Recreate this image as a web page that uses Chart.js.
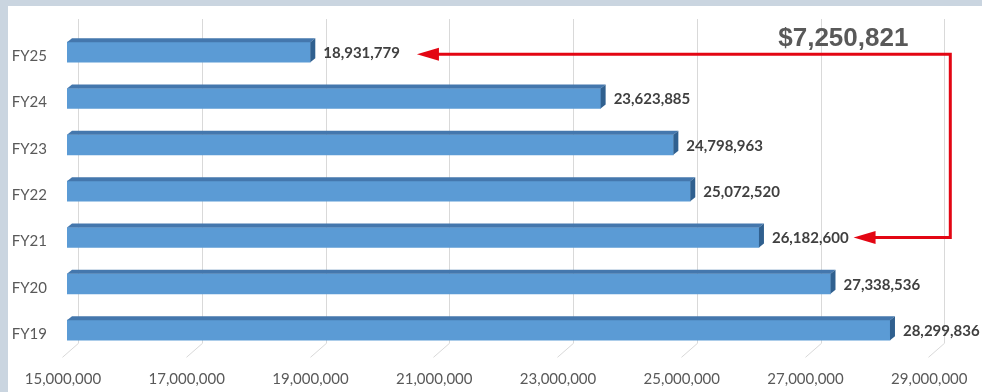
<!DOCTYPE html>
<html><head><meta charset="utf-8">
<script src="https://cdn.jsdelivr.net/npm/chart.js@4/dist/chart.umd.min.js"></script>
<style>html,body{margin:0;padding:0;background:#cad5e0;overflow:hidden}canvas{display:block}</style>
</head><body>
<canvas id="c" width="982" height="392"></canvas>
<script>
const categories = ['FY25', 'FY24', 'FY23', 'FY22', 'FY21', 'FY20', 'FY19'];
const values = [18931779, 23623885, 24798963, 25072520, 26182600, 27338536, 28299836];
const axisMin = 15000000;
const axisMax = 29000000;
const axisStep = 2000000;
const differenceLabel = '$7,250,821';
const arrowFromCategory = 'FY21';
const arrowToCategory = 'FY25';

const fmt = v => Number(v).toLocaleString('en-US');
const DX = 5, DY = 4;

const backgroundPlugin = {
  id: 'bg',
  beforeDraw(chart) {
    const ctx = chart.ctx;
    ctx.save();
    ctx.fillStyle = '#cad5e0';
    ctx.fillRect(0, 0, chart.width, chart.height);
    ctx.fillStyle = '#ffffff';
    ctx.fillRect(8, 6, chart.width - 8, chart.height - 6);
    ctx.restore();
  }
};

const gridPlugin = {
  id: 'grid3d',
  beforeDatasetsDraw(chart) {
    const ctx = chart.ctx, xs = chart.scales.x, a = chart.chartArea;
    ctx.save();
    ctx.strokeStyle = '#d9d9d9';
    ctx.lineWidth = 1;
    xs.ticks.forEach(t => {
      const px = Math.round(xs.getPixelForValue(t.value) + 11) + 0.5;
      ctx.beginPath();
      ctx.moveTo(px, a.top - 10);
      ctx.lineTo(px, a.bottom - 10);
      ctx.lineTo(px - 16, a.bottom + 4);
      ctx.stroke();
    });
    ctx.restore();
  }
};

const bar3dPlugin = {
  id: 'bar3d',
  afterDatasetsDraw(chart) {
    const ctx = chart.ctx;
    const meta = chart.getDatasetMeta(0);
    ctx.save();
    meta.data.forEach((el, i) => {
      const top = el.y - el.height / 2, bottom = el.y + el.height / 2;
      ctx.fillStyle = '#4477ad';
      ctx.beginPath();
      ctx.moveTo(el.base, top);
      ctx.lineTo(el.base + DX, top - DY);
      ctx.lineTo(el.x + DX, top - DY);
      ctx.lineTo(el.x, top);
      ctx.closePath();
      ctx.fill();
      ctx.fillStyle = '#30608f';
      ctx.beginPath();
      ctx.moveTo(el.x, top);
      ctx.lineTo(el.x + DX, top - DY);
      ctx.lineTo(el.x + DX, bottom - DY);
      ctx.lineTo(el.x, bottom);
      ctx.closePath();
      ctx.fill();
      ctx.fillStyle = '#404040';
      ctx.font = 'bold 15px Lato';
      ctx.textAlign = 'left';
      ctx.textBaseline = 'middle';
      ctx.fillText(fmt(values[i]), el.x + 13, el.y + 1);
    });
    ctx.restore();
  }
};

const arrowPlugin = {
  id: 'arrows',
  afterDraw(chart) {
    const ctx = chart.ctx, a = chart.chartArea;
    const meta = chart.getDatasetMeta(0);
    const iTo = categories.indexOf(arrowToCategory);
    const iFrom = categories.indexOf(arrowFromCategory);
    const eTo = meta.data[iTo], eFrom = meta.data[iFrom];
    ctx.save();
    ctx.font = 'bold 15px Lato';
    const wTo = ctx.measureText(fmt(values[iTo])).width;
    const wFrom = ctx.measureText(fmt(values[iFrom])).width;
    const topY = eTo.y + 2, botY = eFrom.y;
    const lineX = a.right + 17;
    const tipTop = eTo.x + 13 + wTo + 17;
    const tipBot = eFrom.x + 13 + wFrom + 5;
    const HL = 22, HW = 6.5;
    ctx.strokeStyle = '#e30613';
    ctx.fillStyle = '#e30613';
    ctx.lineWidth = 3;
    ctx.lineJoin = 'miter';
    ctx.beginPath();
    ctx.moveTo(tipTop + HL - 2, topY);
    ctx.lineTo(lineX, topY);
    ctx.lineTo(lineX, botY);
    ctx.lineTo(tipBot + HL - 2, botY);
    ctx.stroke();
    [[tipTop, topY], [tipBot, botY]].forEach(([tx, ty]) => {
      ctx.beginPath();
      ctx.moveTo(tx, ty);
      ctx.lineTo(tx + HL, ty - HW);
      ctx.lineTo(tx + HL, ty + HW);
      ctx.closePath();
      ctx.fill();
    });
    ctx.fillStyle = '#595959';
    ctx.font = 'bold 26px "Liberation Sans"';
    ctx.textAlign = 'center';
    ctx.textBaseline = 'middle';
    ctx.fillText(differenceLabel, lineX - 107, topY - 15);
    ctx.restore();
  }
};

new Chart(document.getElementById('c'), {
  type: 'bar',
  data: {
    labels: categories,
    datasets: [{
      data: values,
      backgroundColor: '#5b9bd5',
      borderWidth: 0,
      barThickness: 20,
      base: axisMin
    }]
  },
  options: {
    indexAxis: 'y',
    responsive: false,
    animation: false,
    devicePixelRatio: 1,
    layout: { padding: { left: 0, right: 48.7, top: 26.7, bottom: 0 } },
    plugins: { legend: { display: false }, tooltip: { enabled: false } },
    scales: {
      x: {
        min: axisMin, max: axisMax,
        grid: { display: false, drawTicks: false },
        border: { display: false },
        afterFit(s) { s.height = 38.7; },
        ticks: {
          stepSize: axisStep,
          callback: v => fmt(v),
          color: '#595959',
          font: { family: 'Lato', size: 15, lineHeight: 3.47 },
          padding: 0,
          labelOffset: -4,
          maxRotation: 0,
          autoSkip: false
        }
      },
      y: {
        grid: { display: false, drawTicks: false },
        border: { display: false },
        afterFit(s) { s.width = 67; },
        ticks: {
          color: '#595959',
          font: { family: 'Lato', size: 15 },
          padding: 20,
          labelOffset: 4
        }
      }
    }
  },
  plugins: [backgroundPlugin, gridPlugin, bar3dPlugin, arrowPlugin]
});
</script>
</body></html>
